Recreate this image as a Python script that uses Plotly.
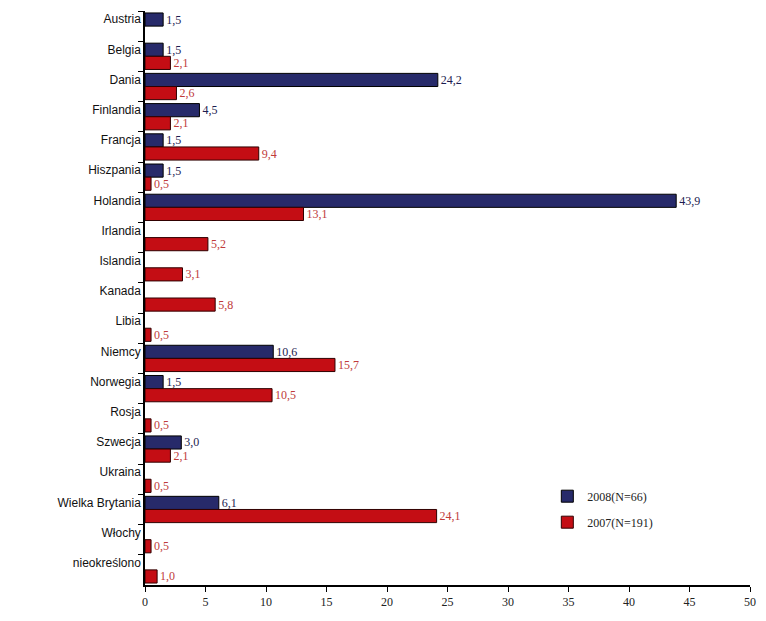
import plotly.graph_objects as go

categories = ["Austria", "Belgia", "Dania", "Finlandia", "Francja", "Hiszpania",
              "Holandia", "Irlandia", "Islandia", "Kanada", "Libia", "Niemcy",
              "Norwegia", "Rosja", "Szwecja", "Ukraina", "Wielka Brytania",
              "Włochy", "nieokreślono"]
values_2008 = [1.5, 1.5, 24.2, 4.5, 1.5, 1.5, 43.9, None, None, None, None, 10.6,
               1.5, None, 3.0, None, 6.1, None, None]
values_2007 = [None, 2.1, 2.6, 2.1, 9.4, 0.5, 13.1, 5.2, 3.1, 5.8, 0.5, 15.7,
               10.5, 0.5, 2.1, 0.5, 24.1, 0.5, 1.0]
series_names = ["2008(N=66)", "2007(N=191)"]
x_ticks = [0, 5, 10, 15, 20, 25, 30, 35, 40, 45, 50]


def fmt(vals):
    return ["" if v is None else f"{v:.1f}".replace(".", ",") for v in vals]


fig = go.Figure()
fig.add_trace(go.Bar(
    y=categories, x=values_2008, orientation="h", name=series_names[0],
    legendgroup="a",
    marker=dict(color="#272a6a", line=dict(color="#000000", width=1)),
    text=fmt(values_2008), textposition="outside", constraintext="none",
    cliponaxis=False,
    outsidetextfont=dict(family="Liberation Serif", size=12, color="#1c1c50"),
))
fig.add_trace(go.Bar(
    y=categories, x=values_2007, orientation="h", name=series_names[1],
    legendgroup="b",
    marker=dict(color="#c40d14", line=dict(color="#300000", width=1)),
    text=fmt(values_2007), textposition="outside", constraintext="none",
    cliponaxis=False,
    outsidetextfont=dict(family="Liberation Serif", size=12, color="#c03a3a"),
))

fig.update_layout(
    width=750, height=605,
    margin=dict(l=137, r=8, t=3, b=28),
    barmode="group", bargap=0.13, bargroupgap=0,
    plot_bgcolor="white", paper_bgcolor="white",
    showlegend=True,
    legend=dict(x=0.665, y=0.18, xanchor="left", yanchor="top",
                bgcolor="rgba(0,0,0,0)", tracegroupgap=7, traceorder="grouped",
                itemwidth=30,
                font=dict(family="Liberation Serif", size=12, color="#222222")),
    xaxis=dict(range=[0, 50], tickvals=x_ticks, showgrid=False, zeroline=False,
               showline=True, linecolor="black", linewidth=1.5,
               ticks="outside", ticklen=5, tickcolor="black",
               tickfont=dict(family="Liberation Serif", size=12, color="#222222")),
    yaxis=dict(autorange="reversed", showgrid=False, showline=True,
               linecolor="black", linewidth=1.5, ticks="outside", ticklen=5,
               tickson="boundaries", tickcolor="black", ticklabelshift=7,
               tickfont=dict(family="Liberation Sans", size=12, color="#111111")),
    font=dict(family="Liberation Sans"),
)

fig.write_html("out.html")
